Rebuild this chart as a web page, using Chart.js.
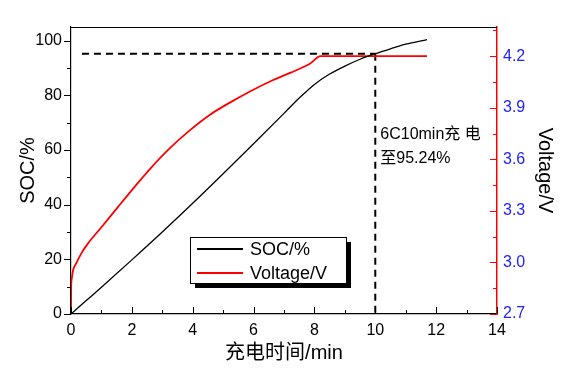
<!DOCTYPE html>
<html>
<head>
<meta charset="utf-8">
<script src="https://cdn.jsdelivr.net/npm/chart.js@4/dist/chart.umd.min.js"></script>
<style>
  body { margin: 0; background: #fff; }
  #myChart { display: block; }
</style>
</head>
<body>
<canvas id="myChart" width="578" height="376"></canvas>
<script>
// charging time (min) and SOC (%)
var socTime = [0, 0.5, 1, 2, 3, 4, 5, 6, 7, 7.5, 8, 8.5, 9, 9.5, 10, 10.5, 11, 11.7];
var socValues = [0, 4.9, 9.8, 19.8, 30, 40.5, 51.3, 62.3, 73.4, 79, 84, 87.8, 90.7, 93.2, 95.24, 97, 98.7, 100.4];

// charging time (min) and cell voltage (V)
var voltTime = [0, 0.005, 0.02, 0.07, 0.17, 0.34, 0.56, 1.0, 1.54, 2.09, 2.6, 3.25, 3.91, 4.57, 5.22, 5.88, 6.54, 7.2, 7.85, 8.2, 9, 10, 11, 11.7];
var voltValues = [2.7, 2.85, 2.9, 2.956, 2.995, 3.053, 3.111, 3.205, 3.322, 3.44, 3.545, 3.665, 3.77, 3.86, 3.93, 3.995, 4.053, 4.103, 4.156, 4.2, 4.2, 4.2, 4.2, 4.2];

// guide lines at 10 min / 95.24 %
var markTime = 10;
var markSoc = 95.24;
var guideStart = 0.36;

var timeTicks = [0, 2, 4, 6, 8, 10, 12, 14];
var socTicks = [0, 20, 40, 60, 80, 100];
var voltTicks = [2.7, 3.0, 3.3, 3.6, 3.9, 4.2];

var FONT = "'Liberation Sans', Arial, 'Noto Sans CJK SC', sans-serif";

function pts(xs, ys) {
  return xs.map(function (x, i) { return { x: x, y: ys[i] }; });
}
function fixedTicks(list) {
  return function (scale) {
    scale.ticks = list.map(function (v) { return { value: v }; });
  };
}

// tick marks drawn on the library's scales (left outward, bottom and right inward)
var tickMarks = {
  id: 'tickMarks',
  afterDraw: function (chart) {
    var c = chart.ctx, a = chart.chartArea, s = chart.scales, v, p;
    c.save();
    c.lineWidth = 1;
    c.strokeStyle = '#000';
    // top frame line
    c.beginPath(); c.moveTo(a.left, a.top + 0.5); c.lineTo(a.right, a.top + 0.5); c.stroke();
    for (v = 0; v <= 105; v += 10) {
      p = Math.round(s.y.getPixelForValue(v)) + 0.5;
      c.beginPath(); c.moveTo(a.left, p); c.lineTo(a.left - (v % 20 === 0 ? 7 : 4), p); c.stroke();
    }
    for (v = 0; v <= 14; v += 1) {
      p = Math.round(s.x.getPixelForValue(v)) + 0.5;
      c.beginPath(); c.moveTo(p, a.bottom); c.lineTo(p, a.bottom - (v % 2 === 0 ? 7 : 4)); c.stroke();
    }
    c.strokeStyle = '#ff0000';
    for (var i = 0; i <= 11; i++) {
      v = 2.7 + i * 0.15;
      p = Math.round(s.y1.getPixelForValue(v)) + 0.5;
      c.beginPath(); c.moveTo(a.right, p); c.lineTo(a.right - (i % 2 === 0 ? 7 : 4), p); c.stroke();
    }
    c.restore();
  }
};

// note text and boxed legend
var notes = {
  id: 'notes',
  afterDraw: function (chart) {
    var c = chart.ctx, s = chart.scales;
    c.save();
    c.fillStyle = '#000';
    c.font = '16px ' + FONT;
    c.textBaseline = 'middle';
    var tx = s.x.getPixelForValue(markTime) + 5;
    c.fillText('6C10min充 电', tx, s.y.getPixelForValue(65.5));
    c.fillText('至95.24%', tx, s.y.getPixelForValue(57));

    // legend box with shadow
    var bx = 190, by = 237, bw = 156, bh = 46;
    c.fillStyle = '#000';
    c.fillRect(bx + 5, by + 5, bw, bh);
    c.fillStyle = '#fff';
    c.fillRect(bx, by, bw, bh);
    c.strokeStyle = '#000';
    c.lineWidth = 1;
    c.strokeRect(bx + 0.5, by + 0.5, bw, bh);
    var ds = chart.data.datasets.slice(0, 2);
    c.font = '18px ' + FONT;
    ds.forEach(function (d, i) {
      var ly = by + 12 + i * 24;
      c.strokeStyle = d.borderColor;
      c.lineWidth = 1.8;
      c.beginPath(); c.moveTo(bx + 7, ly); c.lineTo(bx + 53, ly); c.stroke();
      c.fillStyle = '#000';
      c.fillText(d.label, bx + 60, ly + 1);
    });
    c.restore();
  }
};

var ctx = document.getElementById('myChart').getContext('2d');
var myChart = new Chart(ctx, {
  type: 'line',
  data: {
    datasets: [{
      label: 'SOC/%',
      data: pts(socTime, socValues),
      borderColor: '#000000',
      borderWidth: 1.3,
      yAxisID: 'y',
      cubicInterpolationMode: 'monotone'
    }, {
      label: 'Voltage/V',
      data: pts(voltTime, voltValues),
      borderColor: '#ff0000',
      borderWidth: 1.8,
      yAxisID: 'y1',
      cubicInterpolationMode: 'monotone'
    }, {
      label: 'h-guide',
      data: [{ x: guideStart, y: markSoc }, { x: markTime, y: markSoc }],
      borderColor: '#000000',
      borderWidth: 2,
      borderDash: [7, 5],
      yAxisID: 'y'
    }, {
      label: 'v-guide',
      data: [{ x: markTime, y: markSoc }, { x: markTime, y: 0 }],
      borderColor: '#000000',
      borderWidth: 2,
      borderDash: [7, 5],
      yAxisID: 'y'
    }]
  },
  options: {
    responsive: false,
    devicePixelRatio: 1,
    animation: false,
    parsing: false,
    elements: { point: { radius: 0 } },
    layout: { padding: { top: 27, left: 0, right: 0, bottom: 0 } },
    plugins: {
      legend: { display: false },
      tooltip: { enabled: false }
    },
    scales: {
      x: {
        type: 'linear',
        min: 0, max: 14,
        afterBuildTicks: fixedTicks(timeTicks),
        afterFit: function (s) { s.height = 62; },
        grid: { display: false, drawTicks: false },
        border: { color: '#000', width: 1.2 },
        ticks: { color: '#000', padding: 7, font: { size: 16, family: FONT } },
        title: { display: true, text: '充电时间/min', color: '#000', padding: { top: 0, bottom: 11 }, font: { size: 20, family: FONT } }
      },
      y: {
        position: 'left',
        min: 0, max: 105,
        afterBuildTicks: fixedTicks(socTicks),
        afterFit: function (s) { s.width = 71; },
        grid: { display: false, drawTicks: false },
        border: { color: '#000', width: 1.2 },
        ticks: { color: '#000', padding: 9, font: { size: 16, family: FONT } },
        title: { display: true, text: 'SOC/%', color: '#000', padding: { top: 16, bottom: 0 }, font: { size: 20, family: FONT } }
      },
      y1: {
        position: 'right',
        min: 2.7, max: 4.37,
        afterBuildTicks: fixedTicks(voltTicks),
        afterFit: function (s) { s.width = 81; },
        grid: { display: false, drawTicks: false },
        border: { color: '#ff0000', width: 1.5 },
        ticks: {
          color: '#2222ff', padding: 6, font: { size: 16, family: FONT },
          callback: function (v) { return v.toFixed(1); }
        },
        title: { display: true, text: 'Voltage/V', color: '#000', padding: { top: 21, bottom: 0 }, font: { size: 20, family: FONT } }
      }
    }
  },
  plugins: [tickMarks, notes]
});
</script>
</body>
</html>
